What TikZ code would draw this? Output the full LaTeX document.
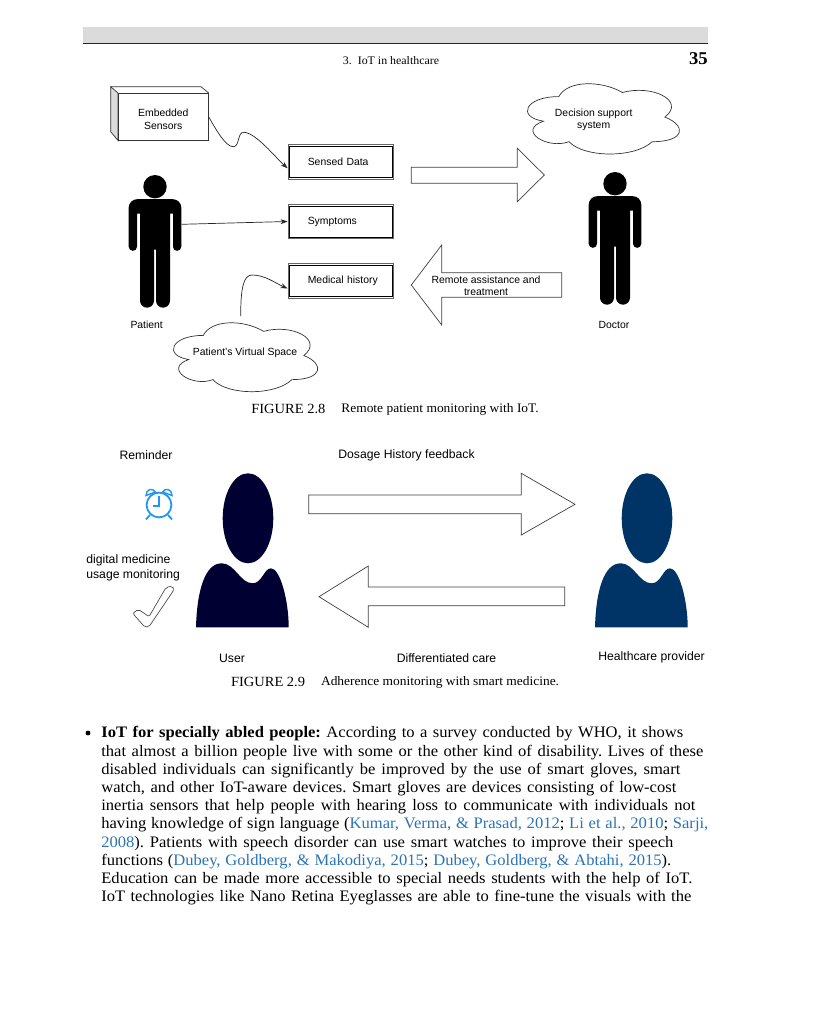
\documentclass[tikz,border=0pt]{standalone}
\usepackage{fontspec}
\setmainfont{Liberation Sans}
\newfontfamily\bookfont[FakeStretch=1.035]{Liberation Serif}
\usetikzlibrary{arrows.meta,calc}

\definecolor{linkblue}{HTML}{2A73B5}
\definecolor{clockblue}{HTML}{2196F3}
\definecolor{usernavy}{HTML}{000033}
\definecolor{carernavy}{HTML}{003366}
\newcommand{\fitline}[2]{{\spaceskip=.27em plus .3em minus .15em\xspaceskip=\spaceskip\makebox[#1pt][s]{#2}}}

\begin{document}
\begin{tikzpicture}[
  x=1pt,y=-1pt,line width=0.7pt,
  >={Stealth[length=7pt,width=5pt]},
  lbl/.style={font=\fontsize{10.4}{12.4}\selectfont,align=center,inner sep=0pt},
  lbltwo/.style={font=\fontsize{12.2}{14.6}\selectfont,align=center,inner sep=0pt},
  recbox/.style={draw=black!60,line width=0.9pt,minimum width=105.6pt,
                 minimum height=34.6pt,inner xsep=8.3pt,inner ysep=0pt,text width=89pt,align=left,
                 font=\fontsize{10.4}{12.4}\selectfont,
                 execute at begin node={\hspace*{11.5pt}},
                 path picture={\draw[black,line width=0.7pt]
                   ([xshift=1.7pt,yshift=-1.7pt]path picture bounding box.north west) rectangle
                   ([xshift=-1.7pt,yshift=1.7pt]path picture bounding box.south east);}},
  blockarrow/.style={draw=black!75,fill=white,line join=miter},
  clockline/.style={clockblue,line width=1.8pt},
  capt/.style={font=\bookfont\fontsize{14}{16}\selectfont,inner sep=0pt,anchor=west},
  capttext/.style={font=\bookfont\fontsize{13}{16}\selectfont,inner sep=0pt,anchor=west},
  cloudshape/.pic={
    \draw[black!80] (.25,.25) .. controls (.05,.25) and (0,.5) .. (.16,.55)
      .. controls (0,.66) and (.18,.9) .. (.31,.8)
      .. controls (.4,1) and (.7,1) .. (.8,.8)
      .. controls (1,.8) and (1,.6) .. (.875,.5)
      .. controls (1,.3) and (.8,.1) .. (.625,.2)
      .. controls (.5,.05) and (.3,.05) .. (.25,.25) -- cycle;
  },
  figman/.pic={
    \fill (0,0) circle (11.7pt);
    \fill (-26.3,21) arc (180:90:8.5pt) -- (17.8,12.5) arc (90:0:8.5pt) -- (26.3,60)
      arc (0:-180:4.15pt) -- (18,27) -- (15,27) -- (15,114)
      arc (0:-180:7pt) -- (1,63) -- (-1,63) -- (-1,114)
      arc (0:-180:7pt) -- (-15,27) -- (-18,27) -- (-18,60)
      arc (0:-180:4.15pt) -- cycle;
  },
  figbust/.pic={
    \fill (0,0) ellipse (25.3pt and 45pt);
    \fill (-52,109) .. controls (-51,72) and (-43,45) .. (-26.3,45)
      .. controls (-13,45) and (-8,65) .. (4.7,65)
      .. controls (14,65) and (16,50) .. (23,50)
      .. controls (32,50) and (40.7,82) .. (40.7,109) -- cycle;
  },
]
\useasboundingbox (0,0) rectangle (830,1024);

% ---- running head ------------------------------------------------------
\fill[black!14] (83,27) rectangle (708,43);
\draw[line width=1.3pt,black!85] (83,43.5) -- (708,43.5);
\node[font=\bookfont\fontsize{11.5}{13}\selectfont,inner sep=0pt] (runhead) at (391,60.5) {3.\ \ IoT in healthcare};
\node[font=\bookfont\fontsize{18}{20}\bfseries\selectfont,inner sep=0pt,anchor=east] (pagenum) at (708,59) {35};

% ---- figure 2.8 --------------------------------------------------------
\node[lbl,minimum width=90pt,minimum height=46.7pt] (sensors) at (163.3,116.7) {\rule{0pt}{13pt}Embedded\\Sensors};
\draw[black!80,fill=black!14] (110.7,86.7) -- (sensors.north west) -- (sensors.south west) -- (110.7,131.7) -- cycle;
\draw[black!80] (110.7,86.7) -- (201,86.7) -- (sensors.north east);
\draw[black!80] (sensors.north west) rectangle (sensors.south east);

\node[recbox] (sensed) at (340.8,161.7) {Sensed Data};
\node[recbox] (symptoms) at (340.8,221.5) {Symptoms};
\node[recbox] (history) at (340.8,281) {Medical history};

\pic at (155,186.7) {figman};
\coordinate (patientarm) at (181.7,224.3);
\node[lbl] (patient) at (146.7,324.8) {Patient};
\pic at (615,183.7) {figman};
\node[lbl] (doctor) at (614,324.8) {Doctor};

\begin{scope}[shift={(163,315.3)},x=161pt,y=-80.4pt]
  \pic {cloudshape};
\end{scope}
\node[lbl] (virtual) at (245,352.5) {Patient's Virtual Space};
\coordinate (virtualtop) at (240.7,316);
\begin{scope}[shift={(516.4,76.1)},x=169.7pt,y=-82pt]
  \pic {cloudshape};
\end{scope}
\node[lbl] (decision) at (593.7,120) {Decision support\\system};

\draw[->,black!85] (sensors.east) .. controls (216,130) and (226,147) .. (233.3,146.7)
  .. controls (240,146.5) and (237,132) .. (244,132.3)
  .. controls (256,133) and (275,157) .. (sensed.187);
\draw[->,black!85] (patientarm) -- (symptoms.west);
\draw[->,black!85] (virtualtop) .. controls (240.7,290) and (243,275) .. (252,275)
  .. controls (265,275) and (275,283) .. (history.188);

\draw[blockarrow] (411.3,167.3) -- (517.3,167.3) -- (517.3,148.3) -- (544.3,175)
  -- (517.3,201.7) -- (517.3,183.3) -- (411.3,183.3) -- cycle;
\draw[blockarrow] (561.7,272.7) -- (441.7,272.7) -- (441.7,245) -- (411.3,285)
  -- (441.7,325) -- (441.7,297.3) -- (561.7,297.3) -- cycle;
\node[lbl] (remote) at (486,286) {Remote assistance and\\treatment};

\node[capt] (capA) at (251,409) {FIGURE 2.8};
\node[capttext] (capAtext) at (341,409.5) {Remote patient monitoring with IoT.};

% ---- figure 2.9 --------------------------------------------------------
\node[lbltwo] (reminder) at (146,455) {Reminder};
\node[lbltwo] (dosage) at (406.5,455) {Dosage History feedback};
\node[lbltwo,align=left,anchor=west] (usage) at (86,568) {digital medicine\\usage monitoring};

% alarm clock
\draw[clockline] (159,505) circle (12.4pt);
\draw[clockline] (158.7,496) -- (158.7,505.7) -- (153,505.7);
\draw[clockline,line width=1.4pt] (146,495.5) .. controls (146,489) and (152.5,487.5) .. (155.5,492) -- cycle;
\draw[clockline,line width=1.4pt] (172,495.5) .. controls (172,489) and (165.5,487.5) .. (162.5,492) -- cycle;
\draw[clockline] (150,515) -- (146,519.5);
\draw[clockline] (168,515) -- (172,519.5);

% check mark
\draw[black!70,fill=white,rounded corners=2pt] (166,587.5) -- (149,616.7) -- (138.3,609.3) -- (132.7,613.3)
  -- (145,627.3) -- (149,626.7) -- (174.3,589.3) -- (172,586) -- cycle;

\pic[usernavy] at (248,518.3) {figbust};
\pic[carernavy] at (647,518.3) {figbust};

\draw[blockarrow] (308.7,495) -- (521.3,495) -- (521.3,473.3) -- (575,504.3)
  -- (521.3,535) -- (521.3,513.7) -- (308.7,513.7) -- cycle;
\draw[blockarrow] (564.7,587) -- (368.3,587) -- (368.3,566) -- (319,596.7)
  -- (368.3,627.3) -- (368.3,605.7) -- (564.7,605.7) -- cycle;

\node[lbltwo] (user) at (232,658.3) {User};
\node[lbltwo] (care) at (446.5,658) {Differentiated care};
\node[lbltwo] (provider) at (651.5,657.5) {Healthcare provider};

\node[capt] (capB) at (230.7,682) {FIGURE 2.9};
\node[capttext] (capBtext) at (320.7,682.5) {Adherence monitoring with smart medicine.};

% ---- bullet paragraph --------------------------------------------------
\fill (88,733) circle (2.4pt);
\node[font=\bookfont\fontsize{16}{18.2}\selectfont\frenchspacing,anchor=north west,inner sep=0pt,align=left,text width=640pt] (para) at (101,726.2)
  {\fitline{582}{\textbf{IoT for specially abled people:} According to a survey conducted by WHO, it shows}\\
   \fitline{602}{that almost a billion people live with some or the other kind of disability. Lives of these}\\
   \fitline{579}{disabled individuals can significantly be improved by the use of smart gloves, smart}\\
   \fitline{575}{watch, and other IoT-aware devices. Smart gloves are devices consisting of low-cost}\\
   \fitline{594}{inertia sensors that help people with hearing loss to communicate with individuals not}\\
   \fitline{607}{having knowledge of sign language ({\color{linkblue}Kumar, Verma, \& Prasad, 2012}; {\color{linkblue}Li et al., 2010}; {\color{linkblue}Sarji,}}\\
   \fitline{572}{{\color{linkblue}2008}). Patients with speech disorder can use smart watches to improve their speech}\\
   \fitline{570}{functions ({\color{linkblue}Dubey, Goldberg, \& Makodiya, 2015}; {\color{linkblue}Dubey, Goldberg, \& Abtahi, 2015}).}\\
   \fitline{591}{Education can be made more accessible to special needs students with the help of IoT.}\\
   \fitline{590}{IoT technologies like Nano Retina Eyeglasses are able to fine-tune the visuals with the}};
\end{tikzpicture}
\end{document}
